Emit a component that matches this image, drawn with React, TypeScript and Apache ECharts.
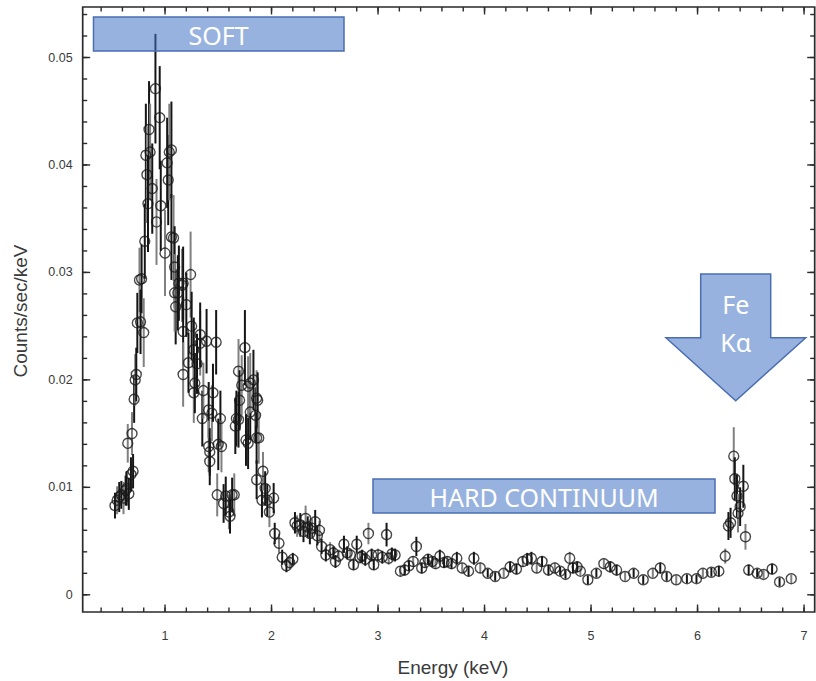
import React, { useEffect, useRef } from "react";
import * as echarts from "echarts";

// Each spectral band: [energy (keV), rate (counts/sec/keV), 1-sigma error]
const softRise: [number, number, number][] = [
  [0.53, 0.0083, 0.0012], [0.55, 0.0088, 0.0013], [0.57, 0.0091, 0.0014], [0.59, 0.0093, 0.0013],
  [0.61, 0.009, 0.0015], [0.63, 0.0097, 0.0014], [0.64, 0.0099, 0.0016], [0.65, 0.0141, 0.0018],
  [0.66, 0.0094, 0.0015], [0.68, 0.0112, 0.0016], [0.69, 0.015, 0.002], [0.7, 0.0115, 0.0016],
  [0.71, 0.0182, 0.0022], [0.72, 0.02, 0.0024], [0.73, 0.0205, 0.0025], [0.74, 0.0253, 0.0028],
  [0.76, 0.0293, 0.003], [0.77, 0.0254, 0.003], [0.78, 0.0294, 0.0032], [0.8, 0.0244, 0.0032],
];

const softPeak: [number, number, number][] = [
  [0.81, 0.0329, 0.0035], [0.82, 0.0409, 0.0048], [0.83, 0.0391, 0.0045], [0.84, 0.0364, 0.0045],
  [0.85, 0.0433, 0.0045], [0.86, 0.0412, 0.0045], [0.88, 0.0378, 0.0042], [0.91, 0.0471, 0.0051],
  [0.92, 0.0347, 0.004], [0.95, 0.0444, 0.0048], [0.96, 0.0362, 0.0042], [1.0, 0.0318, 0.004],
  [1.02, 0.0402, 0.0042], [1.03, 0.0386, 0.0042], [1.04, 0.0412, 0.0045], [1.06, 0.0414, 0.0045],
  [1.06, 0.0333, 0.004], [1.08, 0.0332, 0.004], [1.09, 0.0305, 0.0038], [1.1, 0.0268, 0.0035],
];

const softDecline: [number, number, number][] = [
  [1.09, 0.0281, 0.0036], [1.12, 0.0281, 0.0035], [1.13, 0.029, 0.0035], [1.16, 0.0288, 0.0034],
  [1.17, 0.029, 0.0034], [1.17, 0.0245, 0.0032], [1.17, 0.0205, 0.003], [1.2, 0.027, 0.003],
  [1.22, 0.0216, 0.0028], [1.24, 0.0298, 0.004], [1.25, 0.025, 0.0032], [1.27, 0.0228, 0.003],
  [1.27, 0.0188, 0.0028], [1.28, 0.0197, 0.0028], [1.3, 0.0215, 0.0028], [1.33, 0.0234, 0.003],
  [1.33, 0.0242, 0.003], [1.35, 0.0164, 0.0026], [1.36, 0.019, 0.0026], [1.39, 0.0236, 0.003],
];

const softTrough: [number, number, number][] = [
  [1.41, 0.0172, 0.0026], [1.41, 0.0138, 0.0024], [1.42, 0.0124, 0.0022], [1.42, 0.0133, 0.0022],
  [1.44, 0.0169, 0.0026], [1.45, 0.0188, 0.0027], [1.48, 0.0235, 0.003], [1.49, 0.0093, 0.002],
  [1.5, 0.014, 0.0024], [1.52, 0.0164, 0.0026], [1.53, 0.0138, 0.0024], [1.55, 0.0085, 0.0018],
  [1.57, 0.0092, 0.0018], [1.6, 0.0077, 0.0016], [1.61, 0.0073, 0.0016], [1.63, 0.0093, 0.0016],
  [1.65, 0.0093, 0.002],
];

const siliconBump: [number, number, number][] = [
  [1.66, 0.0157, 0.0026], [1.67, 0.0164, 0.0026], [1.69, 0.0208, 0.003], [1.69, 0.0163, 0.0026],
  [1.7, 0.0181, 0.0028], [1.72, 0.0195, 0.0028], [1.75, 0.023, 0.0035], [1.76, 0.0144, 0.0024],
  [1.78, 0.0194, 0.0028], [1.78, 0.0141, 0.0024], [1.8, 0.017, 0.0026], [1.8, 0.0197, 0.0028],
  [1.83, 0.02, 0.0028], [1.85, 0.0167, 0.0026], [1.86, 0.0183, 0.0026], [1.87, 0.0181, 0.0026],
  [1.86, 0.0146, 0.0024], [1.88, 0.0146, 0.0024], [1.86, 0.0107, 0.0018], [1.91, 0.0088, 0.0016],
];

const softTail: [number, number, number][] = [
  [1.92, 0.0115, 0.0018], [1.94, 0.0099, 0.0016], [1.96, 0.0088, 0.0015], [1.98, 0.0077, 0.0014],
  [2.02, 0.009, 0.0014], [2.03, 0.0057, 0.001], [2.07, 0.0048, 0.0009], [2.1, 0.0035, 0.0007],
  [2.14, 0.0027, 0.0006], [2.17, 0.003, 0.0006], [2.2, 0.0033, 0.0006],
];

const sulfurBand: [number, number, number][] = [
  [2.22, 0.0067, 0.001], [2.24, 0.0064, 0.001], [2.27, 0.0065, 0.0011], [2.3, 0.0059, 0.001],
  [2.32, 0.0071, 0.0012], [2.34, 0.0063, 0.001], [2.36, 0.0057, 0.001], [2.38, 0.0062, 0.0009],
  [2.41, 0.0068, 0.0011], [2.43, 0.0055, 0.0009], [2.45, 0.006, 0.0009], [2.47, 0.0045, 0.0007],
  [2.51, 0.0037, 0.0006], [2.55, 0.0042, 0.0007], [2.58, 0.0039, 0.0006], [2.6, 0.0031, 0.0006],
  [2.63, 0.0036, 0.0006], [2.68, 0.0047, 0.0008], [2.71, 0.0039, 0.0006], [2.74, 0.0037, 0.0006],
  [2.77, 0.0028, 0.0005], [2.8, 0.0047, 0.0008], [2.83, 0.0035, 0.0006], [2.85, 0.0036, 0.0006],
  [2.88, 0.0033, 0.0006], [2.91, 0.0057, 0.001], [2.94, 0.0037, 0.0006], [2.96, 0.0028, 0.0005],
  [3.0, 0.0037, 0.0006], [3.04, 0.0035, 0.0006], [3.08, 0.0056, 0.0011], [3.1, 0.0034, 0.0006],
  [3.13, 0.0038, 0.0006], [3.16, 0.0037, 0.0006],
];

const hardLow: [number, number, number][] = [
  [3.21, 0.0022, 0.0005], [3.25, 0.0023, 0.0005], [3.29, 0.0027, 0.0005], [3.33, 0.0031, 0.0005],
  [3.36, 0.0045, 0.0009], [3.41, 0.0025, 0.0005], [3.44, 0.003, 0.0005], [3.47, 0.0033, 0.0005],
  [3.51, 0.0031, 0.0005], [3.54, 0.0029, 0.0005], [3.58, 0.0036, 0.0006], [3.62, 0.003, 0.0005],
  [3.65, 0.0031, 0.0005], [3.69, 0.0029, 0.0005], [3.74, 0.0034, 0.0006], [3.79, 0.0025, 0.0005],
  [3.85, 0.0022, 0.0005], [3.9, 0.0034, 0.0006], [3.96, 0.0025, 0.0005], [4.03, 0.002, 0.0004],
  [4.1, 0.0017, 0.0004], [4.18, 0.002, 0.0004], [4.24, 0.0026, 0.0005],
];

const hardHigh: [number, number, number][] = [
  [4.3, 0.0024, 0.0005], [4.36, 0.0031, 0.0005], [4.4, 0.0033, 0.0006], [4.44, 0.0034, 0.0006],
  [4.49, 0.0025, 0.0005], [4.54, 0.0031, 0.0005], [4.6, 0.0023, 0.0005], [4.66, 0.0025, 0.0005],
  [4.71, 0.0022, 0.0004], [4.76, 0.0019, 0.0004], [4.8, 0.0034, 0.0006], [4.83, 0.0025, 0.0005],
  [4.87, 0.0026, 0.0005], [4.9, 0.0022, 0.0004], [4.97, 0.0014, 0.0004], [5.05, 0.002, 0.0004],
  [5.12, 0.0029, 0.0005], [5.18, 0.0026, 0.0005], [5.24, 0.0023, 0.0005], [5.32, 0.0017, 0.0004],
  [5.4, 0.002, 0.0004], [5.49, 0.0014, 0.0004], [5.58, 0.002, 0.0004], [5.65, 0.0025, 0.0005],
  [5.71, 0.0017, 0.0004], [5.8, 0.0014, 0.0004], [5.9, 0.0015, 0.0004], [5.99, 0.0015, 0.0004],
  [6.05, 0.002, 0.0004], [6.13, 0.0021, 0.0004], [6.2, 0.0022, 0.0005],
];

const ironLine: [number, number, number][] = [
  [6.26, 0.0036, 0.0007], [6.29, 0.0064, 0.0013], [6.31, 0.0067, 0.0014], [6.34, 0.0129, 0.0027],
  [6.35, 0.0108, 0.002], [6.37, 0.0092, 0.002], [6.38, 0.0076, 0.0018], [6.4, 0.0082, 0.0018],
  [6.43, 0.0101, 0.002], [6.45, 0.0054, 0.0012], [6.48, 0.0023, 0.0005], [6.56, 0.002, 0.0004],
  [6.62, 0.0019, 0.0004], [6.7, 0.0024, 0.0005], [6.77, 0.0012, 0.0004], [6.88, 0.0015, 0.0004],
];

// axis ticks: [first, last, step] for labelled (major) and unlabelled (minor) marks
const energyMajor = [1, 7, 1];
const energyMinor = [0.4, 7, 0.2];
const rateMajor = [0, 0.05, 0.01];
const rateMinor = [0, 0.054, 0.002];

const spectrum = [
  ...softRise, ...softPeak, ...softDecline, ...softTrough, ...siliconBump,
  ...softTail, ...sulfurBand, ...hardLow, ...hardHigh, ...ironLine,
];

const INK = "#2a2a2a";
const LABEL_FONT = "'Liberation Sans', Arial, Helvetica, sans-serif";
const NOTE_FONT = "'Noto Sans', 'Open Sans', sans-serif";
const NOTE_FILL = "rgba(68,114,196,0.55)";
const NOTE_STROKE = "#4a6db3";

// pixel frame of the plotting area
const FRAME = { left: 82.7, right: 814.7, top: 7, bottom: 612 };
const W = 816;
const H = 681;
const X_MIN = 0.227;
const X_MAX = 7.1;
const Y_MIN = -0.0016;
const Y_MAX = 0.0547;

const px = (e: number) => FRAME.left + ((e - X_MIN) / (X_MAX - X_MIN)) * (FRAME.right - FRAME.left);
const py = (r: number) => FRAME.bottom - ((r - Y_MIN) / (Y_MAX - Y_MIN)) * (FRAME.bottom - FRAME.top);

// expands [first, last, step] into tick values, paired with the tick length
const tickRun = ([first, last, step]: number[], length: number) => {
  const out: [number, number][] = [];
  const n = Math.round((last - first) / step);
  for (let i = 0; i <= n; i++) out.push([+(first + i * step).toFixed(6), length]);
  return out;
};

export default function App() {
  const ref = useRef<HTMLDivElement>(null);

  useEffect(() => {
    if (!ref.current) return;
    const chart = echarts.init(ref.current, null, { renderer: "svg" });

    const energyTickData = [...tickRun(energyMinor, 4.5), ...tickRun(energyMajor, 7.5)];
    const rateTickData = [...tickRun(rateMinor, 4.5), ...tickRun(rateMajor, 7.5)];
    const tickStroke = { stroke: INK, lineWidth: 1.4 };

    const option: echarts.EChartsCoreOption = {
      animation: false,
      backgroundColor: "#ffffff",
      grid: [
        {
          left: FRAME.left, right: W - FRAME.right, top: FRAME.top, bottom: H - FRAME.bottom,
          show: true, borderColor: INK, borderWidth: 1.7, backgroundColor: "transparent",
        },
        // label-only grids aligned so that their axis values sit on the main scale
        { left: px(energyMajor[0]), right: W - px(energyMajor[1]), top: FRAME.top, bottom: H - FRAME.bottom },
        { left: FRAME.left, right: W - FRAME.right, top: py(rateMajor[1]), bottom: H - py(rateMajor[0]) },
      ],
      xAxis: [
        { gridIndex: 0, type: "value", min: X_MIN, max: X_MAX, show: false },
        {
          gridIndex: 1, type: "value", position: "bottom",
          min: energyMajor[0], max: energyMajor[1], interval: energyMajor[2],
          axisLine: { show: false }, axisTick: { show: false }, splitLine: { show: false },
          axisLabel: { show: true, margin: 17, color: "#3a3a3a", fontSize: 12.5, fontFamily: LABEL_FONT },
        },
        { gridIndex: 2, type: "value", min: 0, max: 1, show: false },
      ],
      yAxis: [
        { gridIndex: 0, type: "value", min: Y_MIN, max: Y_MAX, show: false },
        { gridIndex: 1, type: "value", min: 0, max: 1, show: false },
        {
          gridIndex: 2, type: "value", position: "left",
          min: rateMajor[0], max: rateMajor[1], interval: rateMajor[2],
          axisLine: { show: false }, axisTick: { show: false }, splitLine: { show: false },
          axisLabel: {
            show: true, margin: 10, color: "#3a3a3a", fontSize: 12.5, fontFamily: LABEL_FONT,
            formatter: (v: number) => (v === 0 ? "0" : v.toFixed(2)),
          },
        },
      ],
      series: [
        {
          // inward ticks on the bottom and top edges of the frame
          type: "custom",
          name: "energy ticks",
          xAxisIndex: 0,
          yAxisIndex: 0,
          silent: true,
          clip: false,
          z: 5,
          data: energyTickData,
          encode: { x: 0 },
          renderItem: (_p: any, api: any) => {
            const x = api.coord([api.value(0), 0])[0];
            const len = api.value(1);
            return {
              type: "group",
              children: [
                { type: "line", shape: { x1: x, y1: FRAME.bottom, x2: x, y2: FRAME.bottom - len }, style: { ...tickStroke } },
                { type: "line", shape: { x1: x, y1: FRAME.top, x2: x, y2: FRAME.top + len }, style: { ...tickStroke } },
              ],
            };
          },
        },
        {
          // inward ticks on the left and right edges of the frame
          type: "custom",
          name: "rate ticks",
          xAxisIndex: 0,
          yAxisIndex: 0,
          silent: true,
          clip: false,
          z: 5,
          data: rateTickData,
          encode: { y: 0 },
          renderItem: (_p: any, api: any) => {
            const y = api.coord([1, api.value(0)])[1];
            const len = api.value(1);
            return {
              type: "group",
              children: [
                { type: "line", shape: { x1: FRAME.left, y1: y, x2: FRAME.left + len, y2: y }, style: { ...tickStroke } },
                { type: "line", shape: { x1: FRAME.right, y1: y, x2: FRAME.right - len, y2: y }, style: { ...tickStroke } },
              ],
            };
          },
        },
        {
          type: "custom",
          name: "error bars",
          xAxisIndex: 0,
          yAxisIndex: 0,
          silent: true,
          z: 3,
          data: spectrum,
          encode: { x: 0, y: 1 },
          renderItem: (params: any, api: any) => {
            const e = api.value(0);
            const r = api.value(1);
            const s = api.value(2);
            const top = api.coord([e, r + s]);
            const bottom = api.coord([e, r - s]);
            const shade = params.dataIndex % 3 === 1 ? "#808080" : "#151515";
            return {
              type: "line",
              shape: { x1: top[0], y1: top[1], x2: bottom[0], y2: bottom[1] },
              style: { stroke: shade, lineWidth: 2 },
            };
          },
        },
        {
          type: "scatter",
          name: "spectrum",
          xAxisIndex: 0,
          yAxisIndex: 0,
          silent: true,
          z: 4,
          symbol: "circle",
          symbolSize: 10,
          data: spectrum.map((p) => [p[0], p[1]]),
          itemStyle: { color: "rgba(255,255,255,0)", borderColor: "#1a1a1a", borderWidth: 1.4 },
        },
      ],
      graphic: {
        elements: [
          {
            type: "rect", z: 100,
            shape: { x: 93.5, y: 17, width: 250.5, height: 34 },
            style: { fill: NOTE_FILL, stroke: NOTE_STROKE, lineWidth: 1.5 },
          },
          {
            type: "text", z: 101, x: 218.5, y: 34.5,
            style: { text: "SOFT", fill: "#ffffff", fontSize: 25, fontFamily: NOTE_FONT, align: "center", verticalAlign: "middle" },
          },
          {
            type: "rect", z: 100,
            shape: { x: 373, y: 479, width: 342, height: 34 },
            style: { fill: NOTE_FILL, stroke: NOTE_STROKE, lineWidth: 1.5 },
          },
          {
            type: "text", z: 101, x: 544, y: 496.5,
            style: { text: "HARD CONTINUUM", fill: "#ffffff", fontSize: 25, fontFamily: NOTE_FONT, align: "center", verticalAlign: "middle" },
          },
          {
            type: "polygon", z: 100,
            shape: {
              points: [
                [700.7, 274], [770.7, 274], [770.7, 337.7], [805.7, 337.7],
                [735.7, 400.7], [666, 337.7], [700.7, 337.7],
              ],
            },
            style: { fill: NOTE_FILL, stroke: NOTE_STROKE, lineWidth: 1.5 },
          },
          {
            type: "text", z: 101, x: 735.7, y: 304,
            style: { text: "Fe", fill: "#ffffff", fontSize: 25, fontFamily: NOTE_FONT, align: "center", verticalAlign: "middle" },
          },
          {
            type: "text", z: 101, x: 735.7, y: 342,
            style: { text: "Kα", fill: "#ffffff", fontSize: 25, fontFamily: NOTE_FONT, align: "center", verticalAlign: "middle" },
          },
          {
            type: "text", z: 101, x: 453, y: 667,
            style: { text: "Energy (keV)", fill: "#3a3a3a", fontSize: 19, fontFamily: LABEL_FONT, align: "center", verticalAlign: "middle" },
          },
          {
            type: "text", z: 101, x: 20.5, y: 311, rotation: Math.PI / 2,
            style: { text: "Counts/sec/keV", fill: "#3a3a3a", fontSize: 19, fontFamily: LABEL_FONT, align: "center", verticalAlign: "middle" },
          },
        ],
      },
    };

    chart.setOption(option);
    return () => chart.dispose();
  }, []);

  return (
    <div
      ref={ref}
      style={{ position: "fixed", left: 0, top: 0, width: W, height: H, background: "#ffffff" }}
    />
  );
}
